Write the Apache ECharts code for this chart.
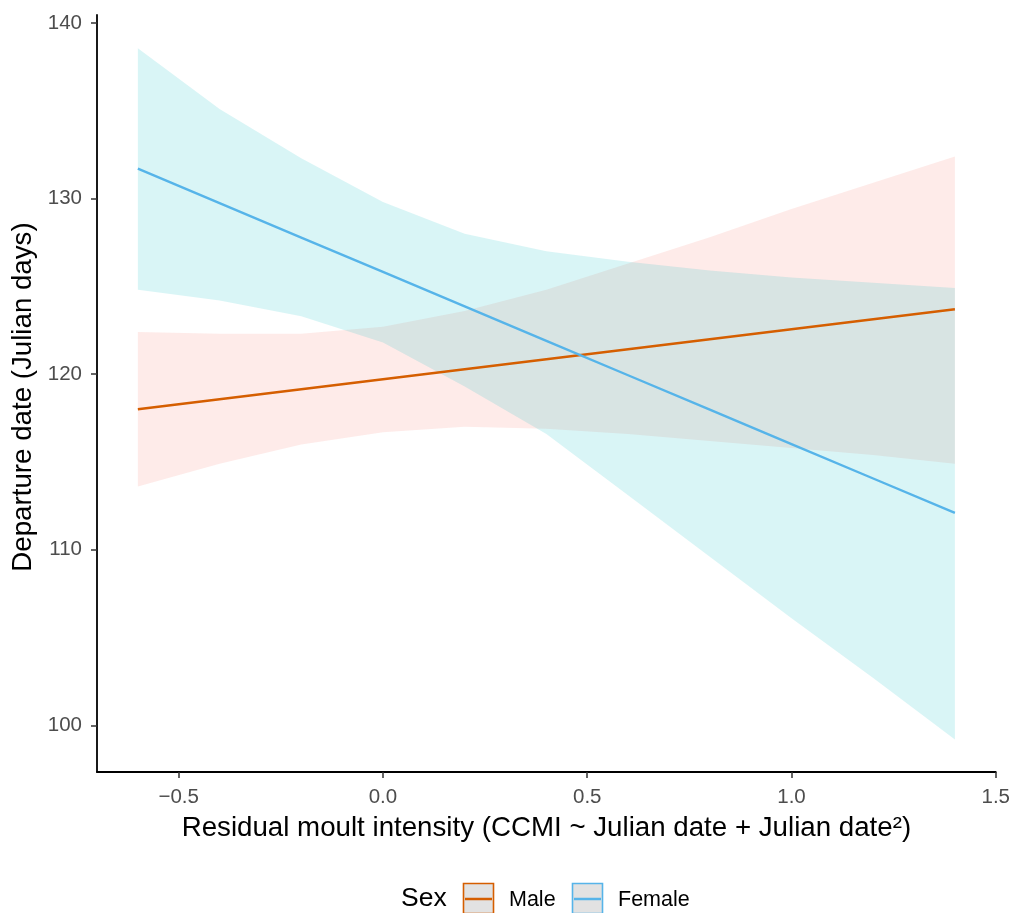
<!DOCTYPE html>
<html>
<head>
<meta charset="utf-8">
<script src="https://cdn.jsdelivr.net/npm/echarts@6/dist/echarts.min.js"></script>
<style>
  html, body { margin: 0; padding: 0; background: #fff; }
  #chart { width: 1013px; height: 913px; }
</style>
</head>
<body>
<div id="chart"></div>
<script>
// Predicted departure date against residual moult intensity, by sex
const xs = [-0.6, -0.4, -0.2, 0.0, 0.2, 0.4, 0.6, 0.8, 1.0, 1.2, 1.4];

const maleFit   = [118.00, 118.57, 119.14, 119.71, 120.28, 120.85, 121.42, 121.99, 122.56, 123.13, 123.70];
const maleLower = [113.6, 114.9, 116.0, 116.7, 117.0, 116.9, 116.6, 116.2, 115.8, 115.4, 114.9];
const maleUpper = [122.4, 122.3, 122.3, 122.7, 123.6, 124.8, 126.3, 127.8, 129.4, 130.9, 132.4];

const femaleFit   = [131.70, 129.74, 127.78, 125.82, 123.86, 121.90, 119.94, 117.98, 116.02, 114.06, 112.10];
const femaleLower = [124.8, 124.2, 123.3, 121.8, 119.3, 116.6, 113.1, 109.6, 106.1, 102.7, 99.2];
const femaleUpper = [138.55, 135.1, 132.3, 129.8, 128.0, 127.0, 126.4, 125.9, 125.5, 125.2, 124.9];

const xTicks = [-0.5, 0.0, 0.5, 1.0, 1.5];
const yTicks = [100, 110, 120, 130, 140];
const groups = ['Male', 'Female'];

const FONT = '"Liberation Sans", Arial, Helvetica, sans-serif';
const lineColors = { Male: '#D55E00', Female: '#56B4E9' };
const bandColors = { Male: 'rgba(248,118,109,0.15)', Female: 'rgba(0,191,196,0.15)' };

function fmtX(v) {
  return Number(v).toFixed(1).replace('-', '\u2212');
}

// Confidence ribbon drawn as one polygon through the axis scales
function bandSeries(name, lower, upper) {
  return {
    type: 'custom',
    name: name,
    silent: true,
    data: [[xs[0], lower[0]]],
    renderItem: function (params, api) {
      const top = xs.map((x, i) => api.coord([x, upper[i]]));
      const bottom = xs.map((x, i) => api.coord([x, lower[i]])).reverse();
      return {
        type: 'polygon',
        shape: { points: top.concat(bottom) },
        style: { fill: bandColors[name], stroke: null }
      };
    }
  };
}

function lineSeries(name, fit) {
  return {
    type: 'line',
    name: name,
    data: xs.map((x, i) => [x, fit[i]]),
    showSymbol: false,
    silent: true,
    lineStyle: { color: lineColors[name], width: 2.4 },
    itemStyle: { color: lineColors[name] }
  };
}

function legendKey(x, name) {
  return [
    { type: 'rect', shape: { x: x + 0.5, y: 883.5, width: 30, height: 30 },
      style: { fill: '#e2e2e2', stroke: lineColors[name], lineWidth: 1.6 } },
    { type: 'line', shape: { x1: x + 2, y1: 899, x2: x + 29, y2: 899 },
      style: { stroke: lineColors[name], lineWidth: 2.5 } }
  ];
}

const chart = echarts.init(document.getElementById('chart'), null, { renderer: 'canvas' });

const option = {
  backgroundColor: '#ffffff',
  animation: false,
  textStyle: { fontFamily: FONT },
  grid: { left: 97, right: 17, top: 15, bottom: 141, containLabel: false },
  xAxis: {
    type: 'value',
    min: -0.7,
    max: 1.5,
    name: 'Residual moult intensity (CCMI ~ Julian date + Julian date\u00b2)',
    nameLocation: 'middle',
    nameGap: 42,
    nameTextStyle: { color: '#000', fontSize: 27.7, fontFamily: FONT },
    axisLine: { show: true, onZero: false, lineStyle: { color: '#000', width: 1.8 } },
    axisTick: { show: true, length: 6, customValues: xTicks, lineStyle: { color: '#333', width: 1.5 } },
    axisLabel: {
      customValues: xTicks,
      formatter: fmtX,
      color: '#4D4D4D',
      fontSize: 20.5,
      margin: 15,
      fontFamily: FONT
    },
    splitLine: { show: false }
  },
  yAxis: {
    type: 'value',
    min: 97.35,
    max: 140.45,
    name: 'Departure date (Julian days)',
    nameLocation: 'middle',
    nameGap: 58,
    nameTextStyle: { color: '#000', fontSize: 27.7, fontFamily: FONT, padding: [0, 7, 0, 0] },
    axisLine: { show: true, onZero: false, lineStyle: { color: '#000', width: 1.8 } },
    axisTick: { show: true, length: 6, customValues: yTicks, lineStyle: { color: '#333', width: 1.5 } },
    axisLabel: {
      customValues: yTicks,
      color: '#4D4D4D',
      fontSize: 20.5,
      margin: 15,
      fontFamily: FONT
    },
    splitLine: { show: false }
  },
  series: [
    bandSeries('Male', maleLower, maleUpper),
    bandSeries('Female', femaleLower, femaleUpper),
    lineSeries('Male', maleFit),
    lineSeries('Female', femaleFit)
  ],
  graphic: [
    { type: 'text', x: 401, y: 899,
      style: { text: 'Sex', font: '26.5px ' + FONT, fill: '#000', verticalAlign: 'middle' } },
    ...legendKey(463, groups[0]),
    { type: 'text', x: 509, y: 900,
      style: { text: groups[0], font: '21.5px ' + FONT, fill: '#000', verticalAlign: 'middle' } },
    ...legendKey(572, groups[1]),
    { type: 'text', x: 618, y: 900,
      style: { text: groups[1], font: '21.5px ' + FONT, fill: '#000', verticalAlign: 'middle' } }
  ]
};

chart.setOption(option);
</script>
</body>
</html>
